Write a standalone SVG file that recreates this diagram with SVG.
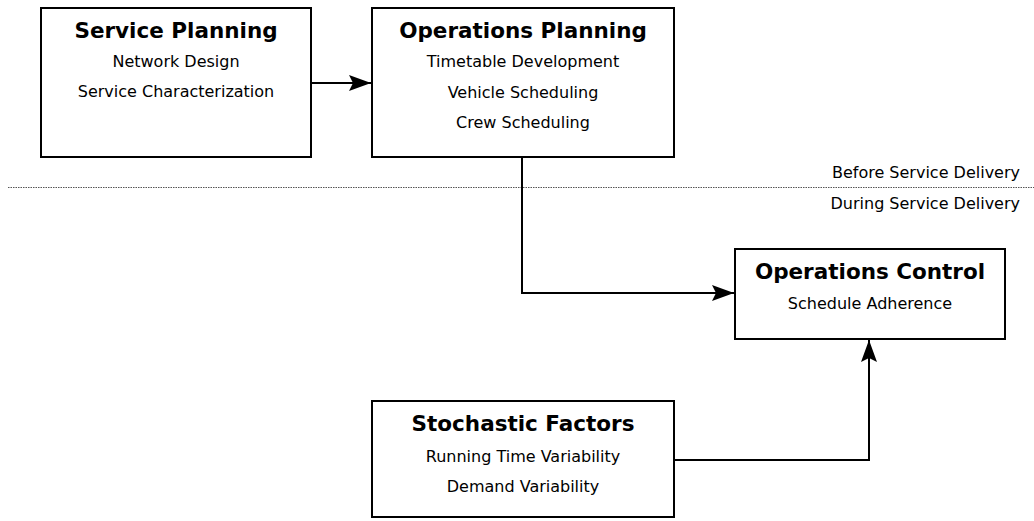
<svg xmlns="http://www.w3.org/2000/svg" width="1034" height="521" viewBox="0 0 1034 521">
<style>
.box{fill:#fff;stroke:#000;stroke-width:2}
.t{font-family:"DejaVu Sans",sans-serif;font-weight:bold;font-size:21.5px;text-anchor:middle;fill:#000}
.s{font-family:"DejaVu Sans",sans-serif;font-size:16px;text-anchor:middle;fill:#000}
.l{font-family:"DejaVu Sans",sans-serif;font-size:16px;text-anchor:end;fill:#000}
.c{fill:none;stroke:#000;stroke-width:2}
</style>
<defs>
<marker id="ah" viewBox="0 0 22 16" markerWidth="22" markerHeight="16" refX="22" refY="8" orient="auto" markerUnits="userSpaceOnUse">
<path d="M0,0 L22,8 L0,16 L4,8 z" fill="#000"/>
</marker>
</defs>
<line x1="8" y1="187.5" x2="1034" y2="187.5" stroke="#555" stroke-width="1" stroke-dasharray="1.5,1"/>
<text class="l" x="1020" y="178">Before Service Delivery</text>
<text class="l" x="1020" y="209">During Service Delivery</text>
<g id="connectors">
<path class="c" d="M311,83 H371" marker-end="url(#ah)"/>
<path class="c" d="M522,157 V293 H734" marker-end="url(#ah)"/>
<path class="c" d="M674,460 H869 V340" marker-end="url(#ah)"/>
</g>
<g id="service-planning">
<rect class="box" x="41" y="8" width="270" height="149"/>
<text class="t" x="176" y="38">Service Planning</text>
<text class="s" x="176" y="67">Network Design</text>
<text class="s" x="176" y="97">Service Characterization</text>
</g>
<g id="operations-planning">
<rect class="box" x="372" y="8" width="302" height="149"/>
<text class="t" x="523" y="38">Operations Planning</text>
<text class="s" x="523" y="67">Timetable Development</text>
<text class="s" x="523" y="98">Vehicle Scheduling</text>
<text class="s" x="523" y="128">Crew Scheduling</text>
</g>
<g id="operations-control">
<rect class="box" x="735" y="249" width="270" height="90"/>
<text class="t" x="870" y="279">Operations Control</text>
<text class="s" x="870" y="309">Schedule Adherence</text>
</g>
<g id="stochastic-factors">
<rect class="box" x="372" y="401" width="302" height="116"/>
<text class="t" x="523" y="431">Stochastic Factors</text>
<text class="s" x="523" y="462">Running Time Variability</text>
<text class="s" x="523" y="492">Demand Variability</text>
</g>
</svg>
